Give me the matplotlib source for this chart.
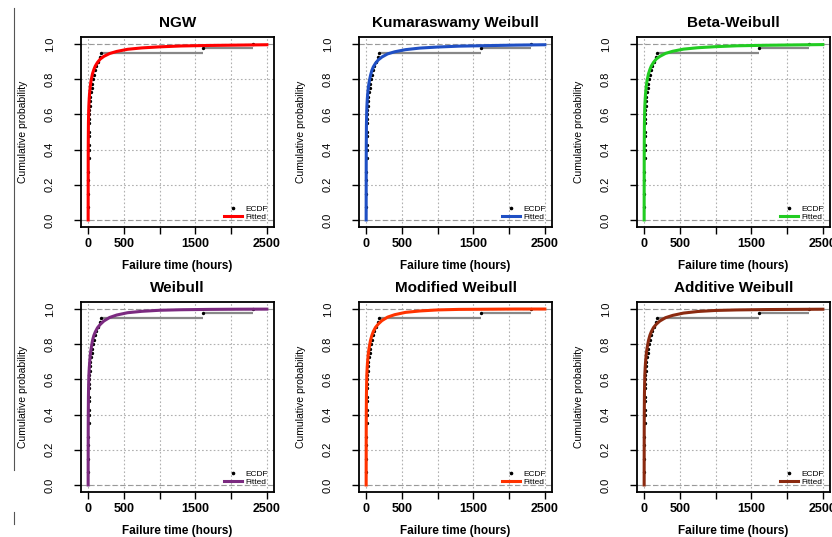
import numpy as np
import matplotlib
matplotlib.use("Agg")
import matplotlib.pyplot as plt
from matplotlib.lines import Line2D

plt.rcParams['font.family'] = ['Liberation Sans', 'DejaVu Sans']

failure_times = [1, 1, 1, 2, 2, 2, 3, 3, 3, 4, 4, 5, 5, 5, 6, 6, 7, 8, 8, 9,
                 10, 10, 11, 12, 18, 22, 28, 32, 40, 48, 55, 65, 80, 95, 110,
                 135, 160, 180, 1600, 2300]

# fitted CDFs
t_fit = [0, 1, 2, 4, 7, 10, 15, 20, 30, 40, 60, 80, 100, 130, 170, 220,
         300, 400, 550, 750, 1000, 1300, 1700, 2100, 2500]
F_ngw = [0, 0.35, 0.45, 0.55, 0.61, 0.65, 0.69, 0.72, 0.76, 0.79, 0.83, 0.855,
         0.875, 0.895, 0.915, 0.93, 0.946, 0.958, 0.97, 0.978, 0.984, 0.989,
         0.992, 0.994, 0.996]
F_kw = [0, 0.33, 0.44, 0.54, 0.6, 0.64, 0.68, 0.71, 0.75, 0.78, 0.82, 0.85,
        0.87, 0.89, 0.91, 0.926, 0.944, 0.956, 0.968, 0.977, 0.983, 0.988,
        0.991, 0.994, 0.996]
F_bw = [0, 0.34, 0.45, 0.55, 0.61, 0.65, 0.69, 0.72, 0.76, 0.79, 0.83, 0.855,
        0.875, 0.895, 0.915, 0.93, 0.947, 0.959, 0.971, 0.979, 0.985, 0.99,
        0.993, 0.995, 0.997]
F_w = [0, 0.3, 0.4, 0.5, 0.57, 0.62, 0.66, 0.69, 0.74, 0.77, 0.82, 0.85,
       0.87, 0.893, 0.913, 0.932, 0.952, 0.966, 0.979, 0.987, 0.993, 0.996,
       0.998, 0.999, 0.9995]
F_mw = [0, 0.3, 0.41, 0.51, 0.58, 0.63, 0.67, 0.7, 0.745, 0.775, 0.82, 0.85,
        0.872, 0.895, 0.915, 0.934, 0.954, 0.968, 0.981, 0.989, 0.995, 0.998,
        0.999, 1.0, 1.0]
F_aw = [0, 0.31, 0.41, 0.51, 0.58, 0.63, 0.67, 0.7, 0.745, 0.775, 0.82, 0.85,
        0.871, 0.894, 0.914, 0.932, 0.951, 0.964, 0.977, 0.986, 0.992, 0.995,
        0.997, 0.998, 0.999]

titles = ['NGW', 'Kumaraswamy Weibull', 'Beta-Weibull',
          'Weibull', 'Modified Weibull', 'Additive Weibull']
fits = [F_ngw, F_kw, F_bw, F_w, F_mw, F_aw]
colors = ['#ff0000', '#1f4fc4', '#22cc22', '#7b2a80', '#ff3300', '#8b2a10']

W, H = 832, 537
fig = plt.figure(figsize=(W / 100, H / 100), dpi=100)

lefts = [81, 359, 637]
tops = [37, 302]
aw, ah = 193, 190

x = np.sort(np.array(failure_times, dtype=float))
n = len(x)
xu, counts = np.unique(x, return_counts=True)
Fu = np.cumsum(counts) / n

for i in range(6):
    r, c = divmod(i, 3)
    ax = fig.add_axes([lefts[c] / W, 1 - (tops[r] + ah) / H, aw / W, ah / H])
    ax.set_xlim(-100, 2600)
    ax.set_ylim(-0.04, 1.04)
    ax.grid(True, color='#b0b0b0', linestyle=(0, (1.5, 2)), linewidth=0.8)
    ax.set_axisbelow(True)
    ax.axhline(0, color='#999999', linestyle=(0, (4, 3)), linewidth=0.8)
    ax.axhline(1, color='#999999', linestyle=(0, (4, 3)), linewidth=0.8)

    # ECDF horizontal steps
    nxt = np.append(xu[1:], 2600)
    ax.hlines(Fu[:-1], xu[:-1], nxt[:-1], color='#888888', linewidth=1.6)
    ax.plot(xu, Fu, 'o', color='black', markersize=1.4)

    ax.plot(t_fit, fits[i], color=colors[i], linewidth=2.2)

    ax.set_xticks([0, 500, 1000, 1500, 2000, 2500])
    ax.set_xticklabels(['0', '500', '', '1500', '', '2500'],
                       fontsize=9, fontweight='bold')
    ax.set_yticks([0, 0.2, 0.4, 0.6, 0.8, 1.0])
    ax.set_yticklabels(['0.0', '0.2', '0.4', '0.6', '0.8', '1.0'],
                       fontsize=8, rotation=90, va='center')
    ax.tick_params(length=5, width=1, colors='black')
    ax.tick_params(axis='y', pad=14)
    ax.tick_params(axis='x', pad=3)
    for s in ax.spines.values():
        s.set_linewidth(1.3)
    ax.set_title(titles[i], fontsize=11, fontweight='bold', pad=7)
    ax.set_xlabel('Failure time (hours)', fontsize=8.5, fontweight='bold',
                  labelpad=7)
    ax.set_ylabel('Cumulative probability', fontsize=7.5, labelpad=12)

    # legend (R style, no box)
    h1 = Line2D([], [], marker='o', color='black', linestyle='none',
                markersize=1.6)
    h2 = Line2D([], [], color=colors[i], linewidth=2.2)
    ax.legend([h1, h2], ['ECDF', 'Fitted'], loc='lower right', frameon=False,
              fontsize=6, handlelength=2.2, labelspacing=0.05,
              borderaxespad=0.3, handletextpad=0.4)

# stray border marks of the original scan
fig.add_artist(Line2D([14 / W, 14 / W], [1 - 8 / H, 1 - 470 / H],
                      color='#555555', linewidth=0.8))
fig.add_artist(Line2D([14 / W, 14 / W], [1 - 512 / H, 1 - 524 / H],
                      color='#555555', linewidth=0.8))

fig.savefig('out.png', dpi=100)
